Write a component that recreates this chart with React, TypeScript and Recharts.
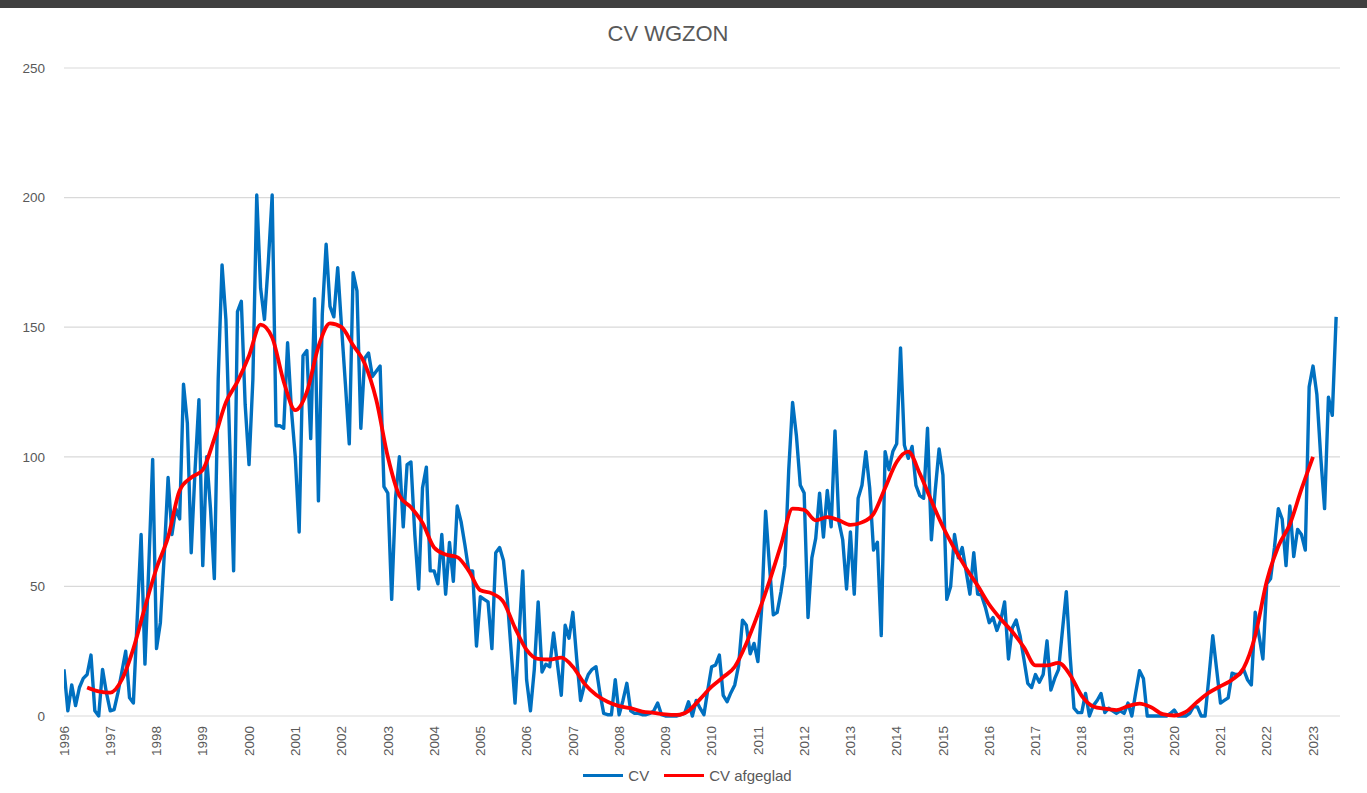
import React from 'react';
import { LineChart, Line, XAxis, YAxis, CartesianGrid, Legend } from 'recharts';

// ---- data (monthly values, January 1996 .. July 2023) ----
const yearLabels: string[] = [
  '1996', '1997', '1998', '1999', '2000', '2001', '2002', '2003', '2004', '2005',
  '2006', '2007', '2008', '2009', '2010', '2011', '2012', '2013', '2014', '2015',
  '2016', '2017', '2018', '2019', '2020', '2021', '2022', '2023',
];

const yTicks: number[] = [0, 50, 100, 150, 200, 250];

const cvMonthly: number[] = [
  18, 2, 12, 4, 11, 14.5, 16, 23.5, 2, 0, 18, 9, // 1996
  2, 2.5, 9, 17, 25, 7, 5, 38, 70, 20, 58, 99, // 1997
  26, 36, 62, 92, 70, 80, 76, 128, 113, 63, 95, 122, // 1998
  58, 100, 80, 53, 130, 174, 153, 105, 56, 156, 160, 120, // 1999
  97, 130, 201, 165, 153, 175, 201, 112, 112, 111, 144, 118, // 2000
  100, 71, 139, 141, 107, 161, 83, 155, 182, 158, 154, 173, // 2001
  150, 128, 105, 171, 164, 111, 138, 140, 131, 133, 135, 88.5, // 2002
  86, 45, 84, 100, 73, 97, 98, 70, 49, 88, 96, 56, // 2003
  56, 51, 70, 47, 67, 52, 81, 75, 66, 56, 56, 27, // 2004
  46, 45, 44, 26, 63, 65, 60, 45, 25, 5, 30, 56, // 2005
  14, 2, 18, 44, 17, 20, 19, 32, 20, 8, 35, 30, // 2006
  40, 22, 6, 12, 16, 18, 19, 9, 1, 0.5, 0.5, 14, // 2007
  0.5, 6, 12.6, 2, 1, 1, 0.5, 0.5, 1, 2, 5, 0.5, // 2008
  0, 0, 0, 0, 0.5, 1, 5.5, 0, 6, 3, 0.5, 10, // 2009
  19, 19.6, 23.5, 8, 5.5, 9, 12, 19.6, 37, 35, 24, 28, // 2010
  21, 42, 79, 58, 39, 40, 48, 58, 95, 121, 108, 89, // 2011
  86, 38, 61, 68.5, 86, 69, 87, 73, 110, 75, 68, 49, // 2012
  71, 47, 84, 89, 102, 88, 64, 67, 31, 102, 95, 102, // 2013
  105, 142, 104.5, 99.4, 104, 89, 85, 84, 111, 68, 87, 103, // 2014
  93, 45, 50, 70, 61, 65, 56, 47, 63, 47, 46.6, 42, // 2015
  36, 38, 33, 37, 44, 22, 34, 37, 31, 22, 12.6, 11, // 2016
  16, 13, 16, 29, 10, 14.5, 18, 33, 48, 23, 3, 1.3, // 2017
  1.3, 8.7, 0, 4, 6, 8.7, 1.3, 3, 2, 1, 2, 1, // 2018
  5, 0, 9, 17.5, 14.5, 0, 0, 0, 0, 0, 0, 1, // 2019
  2.3, 0, 0, 0, 1, 3.6, 3.5, 0, 0, 15, 31, 18, // 2020
  5, 6, 7, 16.5, 16, 16, 18, 14, 12, 40, 31, 22, // 2021
  51, 53, 65, 80, 76, 58, 81, 61.5, 72, 70, 64, 127, // 2022
  135, 124, 100, 80, 123, 116, 154, // 2023
];

// smoothed series read every 3 months, starting July 1996
const smoothStartMonth = 6;
const smoothStepMonths = 3;
const smoothValues: number[] = [
  11, 9.5, 9, 14, 26, 42, 57, 69, 87, 92,
  95, 107, 121, 129, 139, 151, 146, 129, 118, 125,
  142.5, 151.5, 150, 143, 136, 122, 100, 85, 80.5, 74.5,
  65, 62.3, 61.3, 56, 48.5, 47.3, 44, 34, 25.5, 22,
  21.8, 22.5, 19, 12.5, 8.2, 5.5, 3.8, 3, 1.7, 1.2,
  0.6, 0.4, 2, 6.5, 11.3, 15, 19, 28, 39.3, 52,
  66, 80, 79.5, 75.5, 76.7, 75.5, 73.7, 74.7, 78, 88,
  98, 102, 93.5, 83, 73, 64.5, 57, 50.3, 43, 37.4,
  32.5, 26.5, 19.5, 19.5, 20.5, 15.8, 7.8, 3.7, 2.8, 2.3,
  3.8, 4.8, 3.4, 0.7, 0.2, 1.6, 5.5, 9, 11.5, 14,
  18.5, 31, 52, 65.5, 74, 87.5, 100,
];

const cvData = cvMonthly.map((v, i) => ({ month: i, cv: v }));
const smoothData = smoothValues.map((v, k) => ({
  month: smoothStartMonth + k * smoothStepMonths,
  smooth: v,
}));
const xTicks = yearLabels.map((_, k) => k * 12);

// ---- styling ----
const FONT = '"Liberation Sans", Arial, sans-serif';
const TEXT = '#595959';
const BLUE = '#0070C0';
const RED = '#FF0000';
const W = 1367;
const H = 793;
const Y_AXIS_W = 50;
const X_AXIS_H = 40;

function XTick(props: any) {
  const { x, y, payload } = props;
  const label = yearLabels[Math.round(payload.value / 12)];
  return (
    <text
      x={x}
      y={y}
      transform={`rotate(-90 ${x} ${y})`}
      textAnchor="end"
      dy="0.35em"
      fontSize={13.5}
      fill={TEXT}
      fontFamily={FONT}
    >
      {label}
    </text>
  );
}

function YTick(props: any) {
  const { x, y, payload } = props;
  return (
    <text x={x} y={y} dy="0.35em" textAnchor="end" fontSize={13.5} fill={TEXT} fontFamily={FONT}>
      {payload.value}
    </text>
  );
}

function LegendContent() {
  return (
    <div
      style={{
        display: 'flex',
        justifyContent: 'center',
        alignItems: 'center',
        fontFamily: FONT,
        fontSize: 15,
        color: TEXT,
        paddingLeft: 8,
      }}
    >
      <span style={{ display: 'inline-block', width: 40, height: 3, background: BLUE }} />
      <span style={{ marginLeft: 5 }}>CV</span>
      <span style={{ display: 'inline-block', width: 40, height: 3, background: RED, marginLeft: 15 }} />
      <span style={{ marginLeft: 5 }}>CV afgeglad</span>
    </div>
  );
}

export default function App() {
  return (
    <div
      style={{
        position: 'absolute',
        left: 0,
        top: 0,
        width: W,
        height: H,
        background: '#ffffff',
        overflow: 'hidden',
      }}
    >
      <div style={{ position: 'absolute', left: 0, top: 0, width: W, height: 8, background: '#404040' }} />
      <div
        style={{
          position: 'absolute',
          left: 568,
          top: 23,
          width: 200,
          textAlign: 'center',
          fontFamily: FONT,
          fontSize: 22,
          lineHeight: '22px',
          color: TEXT,
          whiteSpace: 'nowrap',
        }}
      >
        CV WGZON
      </div>
      <div style={{ position: 'absolute', left: 0, top: 0 }}>
        <LineChart
          width={W}
          height={H}
          margin={{ top: 68, right: 27, bottom: H - 716 - X_AXIS_H, left: 64 - Y_AXIS_W }}
        >
          <CartesianGrid vertical={false} stroke="#d9d9d9" strokeWidth={1.2} />
          <XAxis
            dataKey="month"
            type="number"
            domain={[0, 331]}
            ticks={xTicks}
            interval={0}
            height={X_AXIS_H}
            axisLine={false}
            tickLine={false}
            tickSize={0}
            tickMargin={10}
            tick={<XTick />}
            allowDataOverflow
          />
          <YAxis
            type="number"
            domain={[0, 250]}
            ticks={yTicks}
            interval={0}
            width={Y_AXIS_W}
            axisLine={false}
            tickLine={false}
            tickSize={0}
            tickMargin={19}
            tick={<YTick />}
          />
          <Legend
            layout="horizontal"
            align="center"
            verticalAlign="middle"
            wrapperStyle={{ left: 0, top: 767, width: W }}
            content={<LegendContent />}
          />
          <Line
            data={cvData}
            dataKey="cv"
            name="CV"
            type="linear"
            stroke={BLUE}
            strokeWidth={3.4}
            dot={false}
            activeDot={false}
            strokeLinejoin="round"
            isAnimationActive={false}
          />
          <Line
            data={smoothData}
            dataKey="smooth"
            name="CV afgeglad"
            type="monotone"
            stroke={RED}
            strokeWidth={3.8}
            dot={false}
            activeDot={false}
            isAnimationActive={false}
          />
        </LineChart>
      </div>
    </div>
  );
}
